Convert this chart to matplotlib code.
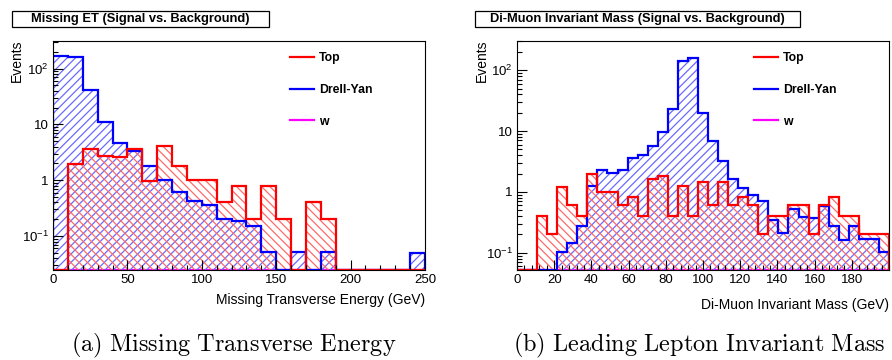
import numpy as np
import matplotlib
matplotlib.use("Agg")
import matplotlib.pyplot as plt
from matplotlib.lines import Line2D
from matplotlib.patches import Rectangle
from matplotlib.ticker import FixedLocator, LogLocator, NullFormatter, FuncFormatter, MultipleLocator

plt.rcParams['font.family'] = ['Liberation Sans', 'DejaVu Sans']
plt.rcParams['mathtext.fontset'] = 'custom'
plt.rcParams['mathtext.rm'] = 'Liberation Sans'
plt.rcParams['mathtext.it'] = 'Liberation Sans:italic'
plt.rcParams['mathtext.bf'] = 'Liberation Sans:bold'
plt.rcParams['hatch.linewidth'] = 0.9

# ---------------- data ----------------
met_edges = np.arange(0, 251, 10)
met_top = [0, 1.96, 3.6, 2.76, 2.6, 3.6, 0.99, 4.1, 1.78, 1.0, 1.0, 0.40, 0.8,
           0.2, 0.8, 0.2, 0, 0.4, 0.2, 0, 0, 0, 0, 0, 0]
met_dy = [168, 162, 42, 11.2, 4.6, 3.3, 1.83, 1.03, 0.62, 0.42, 0.36, 0.20, 0.19,
          0.153, 0.052, 0, 0.052, 0, 0.052, 0, 0, 0, 0, 0, 0.049]
met_w = [0] * 25

mass_edges = np.linspace(0, 200, 38)
mass_top = [0, 0, 0.40, 0.20, 1.21, 0.60, 0.40, 2.0, 1.0, 1.0,
            0.6, 0.82, 0.40, 1.6, 1.8, 0.4, 1.24, 0.4, 1.44, 0.6,
            1.44, 0.6, 0.82, 0.6, 0.2, 0.4, 0.4, 0.6, 0.6, 0.2,
            0.6, 0.82, 0.4, 0.4, 0.2, 0.2, 0.2]
mass_dy = [0, 0, 0, 0, 0.104, 0.146, 0.27, 1.24, 2.3, 2.05,
           2.3, 3.6, 4.0, 5.6, 9.6, 22.8, 140, 161, 20.1, 6.8,
           3.26, 1.6, 1.16, 0.88, 0.72, 0.35, 0.21, 0.53, 0.39, 0.37,
           0.58, 0.27, 0.16, 0.27, 0.165, 0.165, 0.104]
mass_w = [0] * 37

series_names = ["Top", "Drell-Yan", "w"]
series_colors = ["#ff0000", "#0000ff", "#ff00ff"]
titles = ["Missing ET (Signal vs. Background)", "Di-Muon Invariant Mass (Signal vs. Background)"]
xlabels = ["Missing Transverse Energy (GeV)", "Di-Muon Invariant Mass (GeV)"]
captions = ["(a) Missing Transverse Energy", "(b) Leading Lepton Invariant Mass"]

# ---------------- figure ----------------
W, H = 892, 360
fig = plt.figure(figsize=(W / 100, H / 100), dpi=100)


def fx(px):
    return px / W


def fy(py):
    return 1 - py / H


ax_top, ax_bot = 41, 270
axL = fig.add_axes([fx(53), fy(ax_bot), fx(425 - 53), (ax_bot - ax_top) / H])
axR = fig.add_axes([fx(517), fy(ax_bot), fx(889 - 517), (ax_bot - ax_top) / H])

ylabel_fmt = {0.1: r'$10^{-1}$', 1: '1', 10: '10', 100: r'$10^{2}$'}


def draw_panel(ax, edges, top, dy, w, ylim, xlim):
    ymin = ylim[0]
    def clip(v):
        v = np.asarray(v, float)
        return np.where(v > 0, v, ymin)
    # w (magenta) first
    ax.stairs(clip(w), edges, baseline=ymin, fill=False, color=series_colors[2], lw=1.6)
    # hatched fills
    ax.stairs(clip(dy), edges, baseline=ymin, fill=True, facecolor='none',
              edgecolor='#6a6aff', lw=0, hatch='////')
    ax.stairs(clip(top), edges, baseline=ymin, fill=True, facecolor='none',
              edgecolor='#ff6a6a', lw=0, hatch='\\\\\\\\')
    # outlines
    ax.stairs(clip(dy), edges, baseline=ymin, fill=False, color=series_colors[1], lw=1.6)
    ax.stairs(clip(top), edges, baseline=ymin, fill=False, color=series_colors[0], lw=1.6)
    ax.set_yscale('log')
    ax.set_ylim(*ylim)
    ax.set_xlim(*xlim)
    ax.yaxis.set_major_locator(FixedLocator([0.1, 1, 10, 100]))
    ax.yaxis.set_major_formatter(FuncFormatter(lambda v, p: ylabel_fmt.get(round(v, 3) if v < 1 else round(v), '')))
    ax.yaxis.set_minor_locator(LogLocator(base=10, subs=np.arange(2, 10), numticks=20))
    ax.yaxis.set_minor_formatter(NullFormatter())
    ax.tick_params(which='both', direction='in', top=False, right=False, labelsize=9.5)
    ax.tick_params(which='major', length=7, width=0.8, pad=3)
    ax.tick_params(which='minor', length=3.5, width=0.8)
    for s in ax.spines.values():
        s.set_linewidth(0.8)
    handles = [Line2D([], [], color=c, lw=1.6) for c in series_colors]
    ax.legend(handles, series_names, loc='upper left', bbox_to_anchor=(0.637, 0.952),
              frameon=False, borderpad=0, borderaxespad=0, handlelength=1.95,
              handletextpad=0.45, labelspacing=1.62, prop={'weight': 'bold', 'size': 8.8})


draw_panel(axL, met_edges, met_top, met_dy, met_w, (0.0247, 312), (0, 250))
axL.xaxis.set_major_locator(FixedLocator([0, 50, 100, 150, 200, 250]))
axL.xaxis.set_minor_locator(MultipleLocator(10))

draw_panel(axR, mass_edges, mass_top, mass_dy, mass_w, (0.052, 302), (0, 200))
axR.xaxis.set_major_locator(FixedLocator(list(range(0, 181, 20))))
axR.xaxis.set_minor_locator(MultipleLocator(4))

# x labels
axL.set_xlabel(xlabels[0], loc='right', fontsize=10)
axL.xaxis.set_label_coords(1.0, -(293 - ax_bot) / (ax_bot - ax_top))
axR.set_xlabel(xlabels[1], loc='right', fontsize=10)
axR.xaxis.set_label_coords(1.0, -(298 - ax_bot) / (ax_bot - ax_top))

# y labels
for x in (17, 481.5):
    fig.text(fx(x), fy(40), "Events", rotation=90, ha='center', va='top', fontsize=10)

# title boxes
for (x0, x1), t in zip([(11.7, 269), (475.3, 800.3)], titles):
    fig.add_artist(Rectangle((fx(x0), fy(27.3)), fx(x1 - x0), (27.3 - 10.7) / H,
                             transform=fig.transFigure, fill=False, ec='black', lw=0.9))
    fig.text(fx((x0 + x1) / 2), fy(19), t, ha='center', va='center',
             fontsize=9.3, fontweight='bold')

# captions
fig.text(fx(233.5), fy(351), r'$\mathrm{(a)\ Missing\ Transverse\ Energy}$',
         ha='center', va='baseline', fontsize=17.5, math_fontfamily='cm')
fig.text(fx(513), fy(351), r'$\mathrm{(b)\ Leading\ Lepton\ Invariant\ Mass}$',
         ha='left', va='baseline', fontsize=17.5, math_fontfamily='cm')

fig.savefig("out.png", dpi=100)
